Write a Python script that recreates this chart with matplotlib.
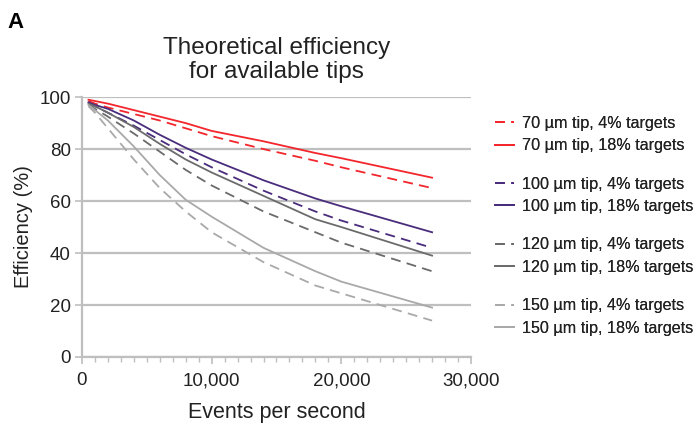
import numpy as np
import matplotlib.pyplot as plt
from matplotlib.ticker import MultipleLocator, FuncFormatter

plt.rcParams['font.family'] = ['Liberation Sans', 'DejaVu Sans']

# events per second sampled for each curve
events = [500, 1000, 2000, 4000, 6000, 8000, 10000, 14000, 18000, 20000, 27000]

eff_70_4 = [98.5, 97.5, 96, 93.5, 91, 88, 85, 80, 75.5, 73, 65]
eff_70_18 = [99, 98.5, 97.5, 95, 92.5, 90, 87, 83, 78.5, 76.5, 69]
eff_100_4 = [97.5, 96.5, 94, 89, 83.5, 78, 73, 64, 56, 52.5, 42]
eff_100_18 = [98, 97, 95.5, 91, 85.5, 80.5, 76, 68, 61, 58, 48]
eff_120_4 = [97, 95.5, 92.5, 86, 79, 72, 66, 56, 48, 44, 33]
eff_120_18 = [97.5, 96.5, 94, 88.5, 82, 76, 71, 62, 53, 50, 39]
eff_150_4 = [96.5, 94, 88, 76, 65, 56, 48, 36.5, 27.5, 24.5, 14]
eff_150_18 = [97, 95, 91, 81, 70, 60.5, 54, 42, 33, 29, 19]

tips = ["70", "100", "120", "150"]
tip_colors = ["#f2262c", "#4a2c7c", "#6b6b6b", "#a9a9a9"]
series = [(eff_70_4, eff_70_18), (eff_100_4, eff_100_18),
          (eff_120_4, eff_120_18), (eff_150_4, eff_150_18)]

fig = plt.figure(figsize=(6.99, 4.26), dpi=100)
ax = fig.add_axes([0.1173, 0.162, 0.5565, 0.61])

grid_c = "#bfbfbf"
text_c = "#222222"
groups = []
for tip, color, (low, high) in zip(tips, tip_colors, series):
    h1, = ax.plot(events, low, color=color, lw=1.3, dashes=(5.5, 3.5),
                  label=f"{tip} µm tip, 4% targets")
    h2, = ax.plot(events, high, color=color, lw=1.3,
                  label=f"{tip} µm tip, 18% targets")
    groups.append([h1, h2])

ax.set_xlim(0, 30000)
ax.set_ylim(0, 100)
ax.set_yticks([0, 20, 40, 60, 80, 100])
ax.xaxis.set_major_locator(MultipleLocator(10000))
ax.xaxis.set_minor_locator(MultipleLocator(1000))
ax.xaxis.set_major_formatter(FuncFormatter(lambda v, p: f"{int(v):,}"))

ax.yaxis.grid(True, color=grid_c, lw=1.6)
ax.set_axisbelow(True)
for side in ["top", "right"]:
    ax.spines[side].set_visible(False)
for side in ["left", "bottom"]:
    ax.spines[side].set_color(grid_c)
    ax.spines[side].set_linewidth(1.6)
ax.tick_params(axis="both", which="major", colors=grid_c, length=5, width=1.2,
               labelcolor=text_c, labelsize=13.5)
ax.tick_params(axis="x", which="major", pad=6)
ax.tick_params(axis="y", which="major", pad=3)
ax.tick_params(axis="x", which="minor", colors=grid_c, length=3.5, width=1)

ax.set_xlabel("Events per second", fontsize=15.5, color=text_c, labelpad=9)
ax.set_ylabel("Efficiency (%)", fontsize=14.5, color=text_c, labelpad=5)
ax.set_title("Theoretical efficiency\nfor available tips", fontsize=17.5,
             color=text_c, pad=14, linespacing=1.1)

fig.text(0.011, 0.948, "A", fontsize=16, fontweight="bold", va="center")

# one small legend per tip size, stacked on the right
tops = [0.743, 0.600, 0.458, 0.315]
for hs, top in zip(groups, tops):
    leg = fig.legend(handles=hs, loc="upper left", bbox_to_anchor=(0.699, top),
                     frameon=False, fontsize=11.6, handlelength=1.2,
                     handletextpad=0.5, labelspacing=0.45, borderaxespad=0,
                     labelcolor=text_c)
    fig.add_artist(leg)

fig.savefig("out.png", dpi=100)
